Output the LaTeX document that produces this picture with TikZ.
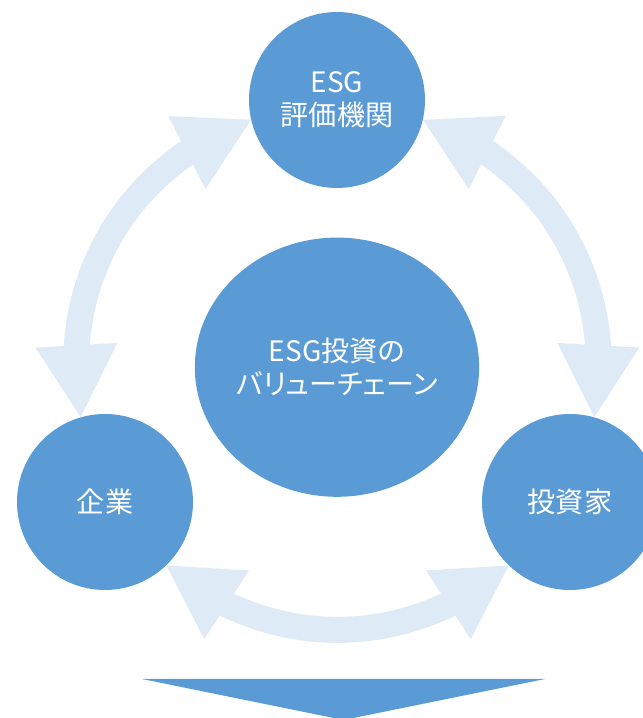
\documentclass[tikz,border=0pt]{standalone}
\usepackage{fontspec}
\setmainfont{Noto Sans CJK JP}[RawFeature=+palt]
\usetikzlibrary{arrows.meta,bending,shapes.geometric}
\definecolor{esgblue}{RGB}{91,155,213}
\definecolor{esgpale}{RGB}{222,235,247}
\tikzset{
	ball/.style={circle, fill=esgblue, text=white, minimum size=4.4cm, inner sep=0pt, align=center, font=\fontsize{20}{23.5}\selectfont},
	ringarrow/.style={draw=esgpale, line width=6.5mm, arrows={Triangle[width=20.5mm,length=18mm,line width=0pt,flex]-Triangle[width=20.5mm,length=18mm,line width=0pt,flex]}}
}

\begin{document}
\begin{tikzpicture}
			%%%%% START %%%%%
			\clip (0, 0) rectangle (16.075, 17.95);
			
			\node[ball] (hyoka) at (8.425, 15.45) {ESG\\評価機関};
			\node[ball] (kigyo) at (2.625, 5.4) {企業};
			\node[ball] (toushika) at (14.25, 5.4) {投資家};
			\node[ball, ellipse, minimum width=6.95cm, minimum height=6.48cm] (kachi) at (8.425, 8.77) {ESG投資の\\バリューチェーン};
			
			\draw[ringarrow] (hyoka.193) to[bend right=40] (kigyo.106);
			\draw[ringarrow] (toushika.74) to[bend right=40] (hyoka.347);
			\draw[ringarrow] (kigyo.314) to[bend right=40] (toushika.226);
			
			\fill[esgblue] (3.55, 0.975) -- (13.625, 0.975) -- (8.5875, -0.05) -- cycle;
			%%%%% END %%%%%
\end{tikzpicture}
\end{document}
